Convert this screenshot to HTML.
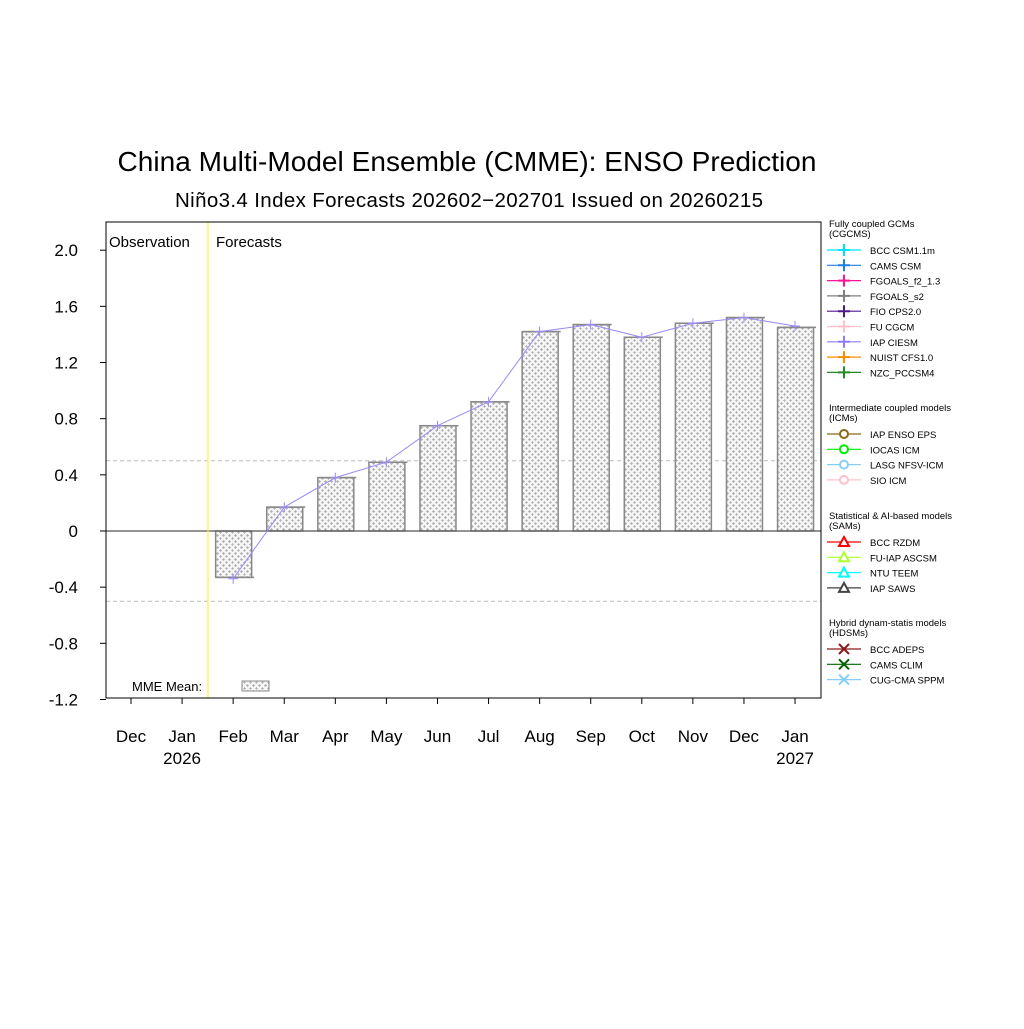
<!DOCTYPE html>
<html><head><meta charset="utf-8"><style>
body{margin:0;background:#fff}
svg text{font-family:"Liberation Sans",sans-serif}
</style></head><body>
<svg id="chart" width="1024" height="1024" xmlns="http://www.w3.org/2000/svg">
<defs><pattern id="dots" width="6" height="6" patternUnits="userSpaceOnUse"><rect width="6" height="6" fill="#f6f6f6"/><path d="M1 1h1v1h-1zM0 1.5h3M1.5 0v3M4 4h1M3 4.5h3M4.5 3v3" stroke="#b0b0b0" stroke-width="0.7"/></pattern></defs>
<text x="467" y="171" font-size="28" text-anchor="middle" textLength="699">China Multi-Model Ensemble (CMME): ENSO Prediction</text>
<text x="469" y="207" font-size="20.5" text-anchor="middle" textLength="588">Nin&#771;o3.4 Index Forecasts 202602−202701 Issued on 20260215</text>
<g id="plot"></g>
<g id="legend"></g>
</svg>
<script>
const months=["Dec","Jan","Feb","Mar","Apr","May","Jun","Jul","Aug","Sep","Oct","Nov","Dec","Jan"];
const years=["","2026","","","","","","","","","","","","2027"];
const mmeMean=[null,null,-0.33,0.17,0.38,0.49,0.75,0.92,1.42,1.47,1.38,1.48,1.52,1.45];
const iapCiesm=[null,null,-0.34,0.17,0.38,0.49,0.75,0.92,1.42,1.47,1.38,1.48,1.52,1.46];
const yTicks=[2.0,1.6,1.2,0.8,0.4,0,-0.4,-0.8,-1.2];
const yTickLabels=["2.0","1.6","1.2","0.8","0.4","0","-0.4","-0.8","-1.2"];
const L=106,R=821,T=222,B=698;
const y=v=>531-v*140.4;
const x=i=>131+i*51.08;
const NS="http://www.w3.org/2000/svg";
const g=document.getElementById('plot');
function el(tag,attrs,parent){const e=document.createElementNS(NS,tag);for(const k in attrs)e.setAttribute(k,attrs[k]);(parent||g).appendChild(e);return e;}
[0.5,-0.5].forEach(v=>{const l=el('line',{x1:L,x2:R,y1:y(v),y2:y(v),stroke:'#bbb','stroke-dasharray':'4,3'});

});
mmeMean.forEach((v,i)=>{if(v==null)return;const y0=Math.min(y(0),y(v)),h=Math.abs(y(v)-y(0));
const r=el('rect',{x:x(i)-17.5,y:y0,width:36,height:h,fill:'url(#dots)',stroke:'#888','stroke-width':1.5});


el('line',{x1:x(i)-17.5,x2:x(i)+21,y1:y(v),y2:y(v),stroke:'#888','stroke-width':1.5});});
const z=el('line',{x1:L,x2:R,y1:y(0),y2:y(0),stroke:'#555','stroke-width':1.2});


let pts=[];iapCiesm.forEach((v,i)=>{if(v!=null)pts.push(x(i)+','+y(v));});
const pl=el('polyline',{points:pts.join(' '),fill:'none',stroke:'#9a8cf8','stroke-width':1});


iapCiesm.forEach((v,i)=>{if(v==null)return;el('path',{d:`M${x(i)-5} ${y(v)}h10M${x(i)} ${y(v)-5}v10`,stroke:'#9a8cf8','stroke-width':1});});
const dv=el('line',{x1:208,x2:208,y1:T,y2:B,stroke:'#ffef40','stroke-width':1.2});


const fr=el('rect',{x:L,y:T,width:R-L,height:B-T,fill:'none',stroke:'#000','stroke-width':1});


yTicks.forEach((v,i)=>{el('line',{x1:L-6,x2:L,y1:y(v),y2:y(v),stroke:'#000'});
const t=el('text',{x:78,y:y(v)+6,'font-size':17,'text-anchor':'end'});t.textContent=yTickLabels[i];

});
months.forEach((m,i)=>{el('line',{x1:x(i),x2:x(i),y1:B,y2:B+6,stroke:'#000'});
const t=el('text',{x:x(i),y:742,'font-size':17,'text-anchor':'middle'});t.textContent=m;


if(years[i]){const t2=el('text',{x:x(i),y:764,'font-size':17,'text-anchor':'middle'});t2.textContent=years[i];

}});
const o=el('text',{x:109,y:247,'font-size':15});o.textContent='Observation';


const f=el('text',{x:216,y:247,'font-size':15});f.textContent='Forecasts';


const mt=el('text',{x:132,y:691,'font-size':13});mt.textContent='MME Mean:';


el('rect',{x:242,y:681,width:27,height:10,fill:'url(#dots)',stroke:'#888'});
const lg=document.getElementById('legend');
const groups=[
 ["Fully coupled GCMs","(CGCMS)",224,[["BCC CSM1.1m","#00e5ff","+"],["CAMS CSM","#1e7fe0","+"],["FGOALS_f2_1.3","#ff1493","+"],["FGOALS_s2","#808080","+"],["FIO CPS2.0","#4b1a8c","+"],["FU CGCM","#ffc0cb","+"],["IAP CIESM","#8c7cff","+"],["NUIST CFS1.0","#ff8c00","+"],["NZC_PCCSM4","#228b22","+"]]],
 ["Intermediate coupled models","(ICMs)",408,[["IAP ENSO EPS","#8b6914","o"],["IOCAS ICM","#00ee00","o"],["LASG NFSV-ICM","#87cefa","o"],["SIO ICM","#ffc0cb","o"]]],
 ["Statistical & AI-based models","(SAMs)",516,[["BCC RZDM","#ff0000","t"],["FU-IAP ASCSM","#adff2f","t"],["NTU TEEM","#00ffff","t"],["IAP SAWS","#444","t"]]],
 ["Hybrid dynam-statis models","(HDSMs)",623,[["BCC ADEPS","#8b1a1a","x"],["CAMS CLIM","#006400","x"],["CUG-CMA SPPM","#87cefa","x"]]]];
groups.forEach(([h1,h2,yy,items])=>{
 const a=el('text',{x:829,y:yy+3,'font-size':9.5},lg);a.textContent=h1;
 
 
 const b=el('text',{x:829,y:yy+13,'font-size':9.5},lg);b.textContent=h2;
 items.forEach(([n,c,mk],k)=>{const yc=yy+26+k*15.3;
  const ge=el('g',{},lg);
  
  
  el('line',{x1:827,x2:861,y1:yc,y2:yc,stroke:c,'stroke-width':1.2},ge);
  if(mk=='+')el('path',{d:`M838 ${yc}h12M844 ${yc-6}v12`,stroke:c,'stroke-width':2},ge);
  if(mk=='o')el('circle',{cx:844,cy:yc,r:4,fill:'#fff',stroke:c,'stroke-width':2},ge);
  if(mk=='t')el('path',{d:`M844 ${yc-5}L849 ${yc+4}L839 ${yc+4}Z`,fill:'#fff',stroke:c,'stroke-width':2},ge);
  if(mk=='x')el('path',{d:`M839 ${yc-5}L849 ${yc+5}M849 ${yc-5}L839 ${yc+5}`,stroke:c,'stroke-width':2},ge);
  const t=el('text',{x:870,y:yc+4,'font-size':9.5},ge);t.textContent=n;});
});
</script>
</body></html>
